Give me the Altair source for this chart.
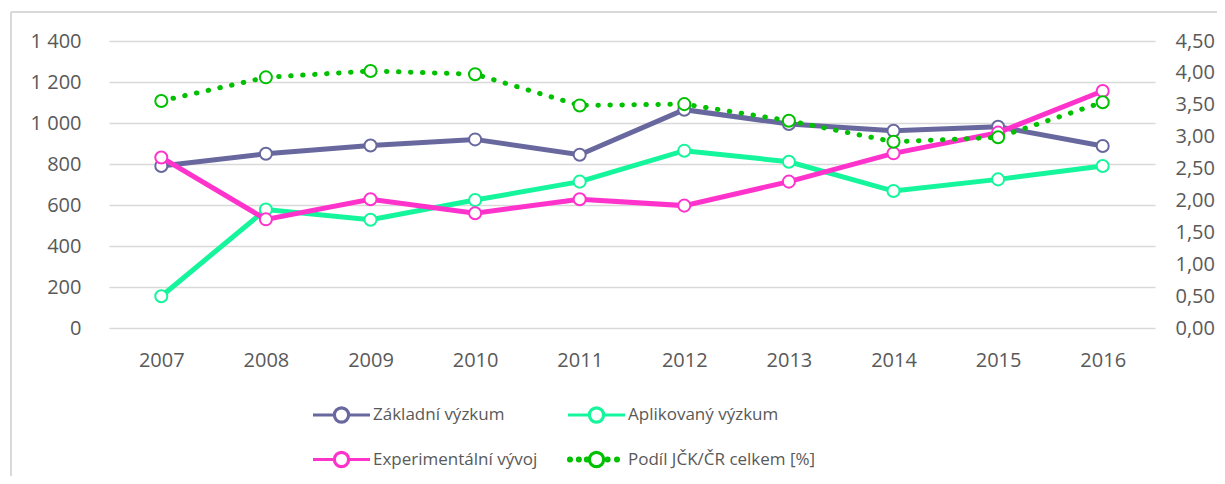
import altair as alt
import pandas as pd

years = ["2007", "2008", "2009", "2010", "2011", "2012", "2013", "2014", "2015", "2016"]
zakladni = [790, 850, 890, 920, 845, 1065, 995, 962, 982, 888]
aplikovany = [155, 578, 528, 624, 714, 865, 811, 668, 725, 790]
experimentalni = [832, 530, 628, 560, 628, 597, 714, 852, 953, 1156]
podil = [3.56, 3.93, 4.03, 3.98, 3.49, 3.51, 3.25, 2.92, 2.99, 3.54]

series_names = ["Základní výzkum", "Aplikovaný výzkum", "Experimentální vývoj",
                "Podíl JČK/ČR celkem [%]"]
colors = ["#68689f", "#14f59c", "#ff33cc", "#00c000"]
left_ticks = [0, 200, 400, 600, 800, 1000, 1200, 1400]
right_ticks = [0, 0.5, 1, 1.5, 2, 2.5, 3, 3.5, 4, 4.5]

FONT = "Open Sans"
TXT = "#595959"
FRAME = "#d9d9d9"

rows = []
for name, vals in zip(series_names[:3], [zakladni, aplikovany, experimentalni]):
    for yr, v in zip(years, vals):
        rows.append({"rok": yr, "serie": name, "hodnota": v})
left_df = pd.DataFrame(rows)
right_df = pd.DataFrame({"rok": years, "serie": series_names[3], "podil": podil})

# legend symbols: line - open circle - line ; dots - open circle - dots
CIRCLE = "M0.25,0A0.25,0.25 0 1 1 -0.25,0A0.25,0.25 0 1 1 0.25,0"
LINE_SYM = "M-1,0L-0.25,0M0.25,0L1,0" + CIRCLE
def dot(cx, r=0.05):
    return f"M{cx + r:.3f},0A{r},{r} 0 1 1 {cx - r:.3f},0A{r},{r} 0 1 1 {cx + r:.3f},0"
DOT_SYM = "".join(dot(c) for c in [-0.93, -0.62, -0.34, 0.39, 0.72]) + CIRCLE
SYM_EXPR = f"datum.value === '{series_names[3]}' ? '{DOT_SYM}' : '{LINE_SYM}'"

x = alt.X("rok:O", scale=alt.Scale(type="point", padding=0.5),
          axis=alt.Axis(title=None, labelAngle=0, ticks=False, domain=False,
                        labelPadding=22, grid=False))

yL = alt.Y("hodnota:Q", scale=alt.Scale(domain=[0, 1400], nice=False),
           axis=alt.Axis(title=None, values=left_ticks, ticks=False, domain=False,
                         labelPadding=28, grid=True, gridColor="#d9d9d9", gridWidth=1.3,
                         labelExpr="replace(format(datum.value, ','), ',', ' ')"))

yR = alt.Y("podil:Q", scale=alt.Scale(domain=[0, 4.5], nice=False),
           axis=alt.Axis(title=None, orient="right", values=right_ticks, ticks=False,
                         domain=False, grid=False, labelPadding=20,
                         labelExpr="replace(format(datum.value, '.2f'), '.', ',')"))

legend = alt.Legend(title=None, orient="none", legendX=202, legendY=343,
                    direction="horizontal", columns=2, columnPadding=23, rowPadding=-17,
                    symbolType=alt.ExprRef(expr=SYM_EXPR), symbolSize=3249,
                    symbolStrokeWidth=3.2, labelFont=FONT, labelFontSize=17,
                    labelColor=TXT, labelOffset=1, labelLimit=400, padding=0)

color = alt.Color("serie:N", scale=alt.Scale(domain=series_names, range=colors),
                  legend=legend)

# outer frame of the chart box (decorative)
frame_top = alt.Chart(right_df).mark_rule(color=FRAME, strokeWidth=1.5).encode(
    x=alt.value(-98), x2=alt.value(1120), y=alt.value(-29))
frame_left = alt.Chart(right_df).mark_rule(color=FRAME, strokeWidth=1.5).encode(
    x=alt.value(-98), y=alt.value(-29), y2=alt.value(460))

left_layers = [frame_top, frame_left]
for name in series_names[:3]:
    base = alt.Chart(left_df).transform_filter(alt.datum.serie == name)
    left_layers.append(base.mark_line(strokeWidth=5).encode(x=x, y=yL, color=color))
    left_layers.append(base.mark_point(filled=False, fill="white", size=145,
                                       strokeWidth=2, opacity=1)
                       .encode(x=x, y=yL, color=color))

r_line = alt.Chart(right_df).mark_line(strokeWidth=5, strokeDash=[0.5, 11.5],
                                       strokeCap="round") \
    .encode(x=x, y=yR, color=color)
r_pts = alt.Chart(right_df).mark_point(filled=False, fill="white", size=145,
                                       strokeWidth=2, opacity=1) \
    .encode(x=x, y=yR, color=color)

chart = alt.layer(alt.layer(*left_layers), alt.layer(r_line, r_pts)) \
    .resolve_scale(y="independent") \
    .properties(width=1046, height=287,
                autosize=alt.AutoSizeParams(type="none"),
                padding={"left": 101, "top": 33, "right": 62, "bottom": 148}) \
    .configure_view(stroke=None) \
    .configure_axis(labelFont=FONT, labelFontSize=20, labelColor=TXT)

chart.save("out.html", embed_options={"renderer": "svg", "actions": False})
